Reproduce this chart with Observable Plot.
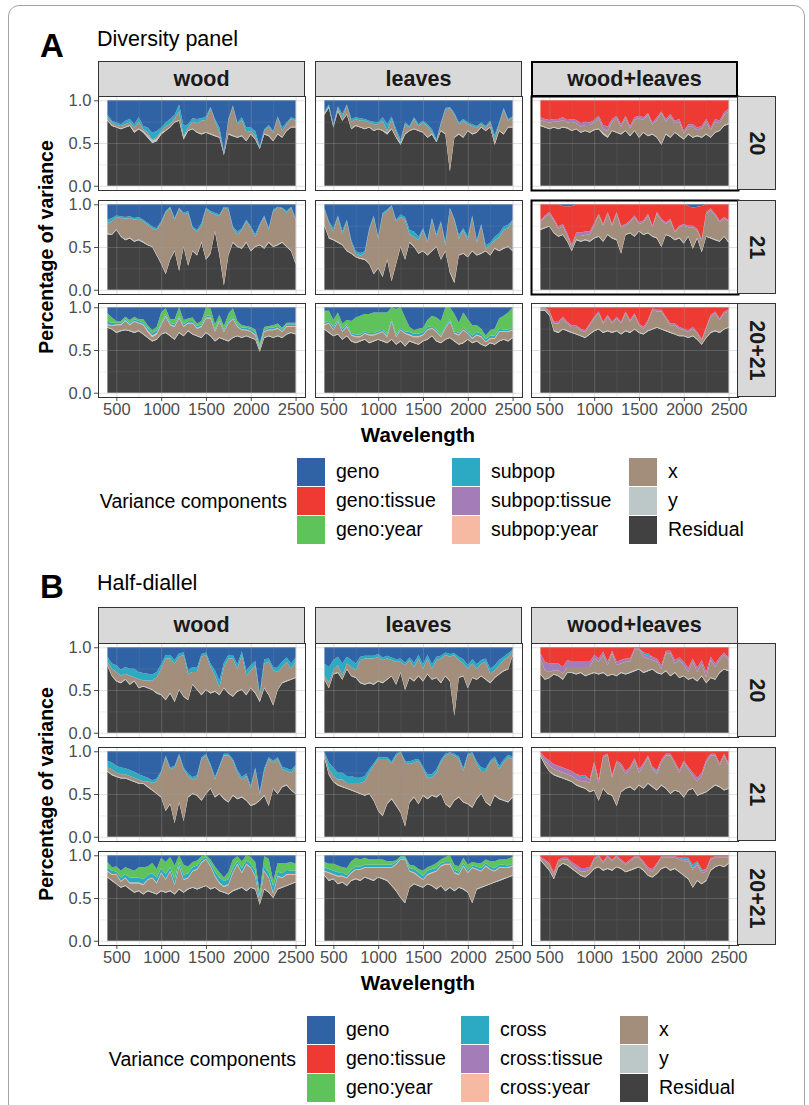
<!DOCTYPE html>
<html>
<head>
<meta charset="utf-8">
<script src="https://cdn.jsdelivr.net/npm/d3@7"></script>
<script src="https://cdn.jsdelivr.net/npm/@observablehq/plot@0.6"></script>
<style>
  html, body { margin: 0; padding: 0; background: #fff; }
  #page { position: relative; width: 809px; height: 1105px; overflow: hidden;
          font-family: "Liberation Sans", Arial, Helvetica, sans-serif; color: #000; }
  .txt { position: absolute; white-space: nowrap; line-height: 1; }
  .strip { position: absolute; box-sizing: border-box; background: #d9d9d9; border: 1px solid #333;
           display: flex; align-items: center; justify-content: center;
           font-weight: bold; font-size: 21.5px; color: #1a1a1a; }
  .strip.emph { border: 2px solid #000; }
  .strip.side span { transform: rotate(90deg); white-space: nowrap; display: block; }
  .swatch { position: absolute; width: 28px; height: 28px; }
  .outer { position: absolute; left: 8px; top: 5px; width: 797px; height: 1130px;
           border: 1.5px solid #a3a3a3; border-radius: 11px; box-sizing: border-box; }
</style>
</head>
<body>
<div id="page"><div class="outer"></div></div>
<script>
// ---------- shared axes ----------
const wavelength = [400,450,500,550,600,650,700,750,800,850,900,950,1000,1050,1100,1150,1200,1250,1300,1350,1400,1450,1500,1550,1600,1650,1700,1750,1800,1850,1900,1950,2000,2050,2100,2150,2200,2250,2300,2350,2400,2450,2500];
const tissues = ["wood", "leaves", "wood+leaves"];
const years = ["20", "21", "20+21"];
const xTicks = [500, 1000, 1500, 2000, 2500];
const xMinorTicks = [750, 1250, 1750, 2250];
const yTicks = [0, 0.5, 1];
const yMinorTicks = [0.25, 0.75];

const componentsA = ["geno", "geno:tissue", "geno:year", "subpop", "subpop:tissue", "subpop:year", "x", "y", "Residual"];
const componentsB = ["geno", "geno:tissue", "geno:year", "cross", "cross:tissue", "cross:year", "x", "y", "Residual"];
const componentColors = ["#3063a6", "#ee3a33", "#5ec35b", "#2ca9c3", "#a47db8", "#f6b9a2", "#a38d7b", "#bcc7c7", "#414141"];

// ---------- A: diversity panel (percent of variance) ----------
const divWood20Residual = [76,70,68,66,68,70,62,66,62,56,50,52,60,64,68,74,76,54,64,66,62,60,62,60,58,56,36,60,58,56,58,52,60,54,43,60,58,52,60,56,64,68,68];
const divWood20Y        = [1,1,1,1,1,1,2,1,2,3,3,3,2,1,1,1,1,3,1,1,1,1,1,1,1,1,1,1,1,1,1,1,1,1,1,1,1,1,1,1,1,1,1];
const divWood20X        = [3,3,2,3,3,3,4,8,2,3,1,2,2,5,3,4,10,1,3,8,10,15,14,30,17,6,1,15,34,15,18,10,3,4,0,3,10,9,19,7,7,9,7];
const divWood20Subpop   = [3,2,3,2,4,4,4,5,4,6,8,7,4,4,6,4,8,12,4,4,5,3,4,1,2,5,2,2,1,2,3,5,4,5,2,2,2,2,1,4,2,2,2];

const divLeaves20Residual = [83,91,68,87,76,83,66,70,68,66,68,64,66,64,60,66,56,48,60,64,66,64,62,56,60,51,64,60,17,56,60,56,64,60,62,68,64,68,48,64,60,68,68];
const divLeaves20Y        = [1,1,1,1,1,1,1,1,1,1,1,1,1,1,2,1,1,2,1,1,1,1,1,1,1,1,1,1,1,1,1,1,1,1,1,1,1,1,2,1,1,1,1];
const divLeaves20X        = [1,1,1,3,3,10,8,7,7,9,5,7,5,11,2,11,6,1,11,3,11,5,11,13,2,0,7,28,73,26,11,19,7,9,5,3,3,5,5,7,28,7,11];
const divLeaves20Subpop   = [2,2,2,2,4,1,3,2,3,2,2,3,2,4,8,3,3,3,2,2,2,2,2,2,3,2,2,2,1,2,2,2,2,2,2,2,2,2,4,2,2,2,1];

const divWL20Residual = [70,68,66,68,66,68,67,64,66,62,64,62,65,66,60,56,64,62,60,64,58,64,56,62,58,60,56,48,60,56,62,58,54,60,56,58,56,60,56,62,64,70,72];
const divWL20Y        = [1,1,1,1,1,1,1,1,1,1,1,1,1,1,2,2,1,1,1,1,1,1,1,1,1,1,1,1,1,1,1,1,1,1,1,1,1,1,1,1,1,1,1];
const divWL20X        = [6,6,7,6,8,8,6,10,6,6,6,8,8,12,4,6,10,16,8,14,8,12,22,14,24,10,20,36,14,24,10,16,6,8,12,6,10,14,8,12,8,12,14];
const divWL20SubpopTissue = [3,3,3,3,3,3,3,3,4,4,4,3,3,3,5,5,3,3,3,3,3,3,3,3,2,3,3,2,3,3,3,3,3,3,3,3,3,3,3,3,3,3,3];

const divWood21Residual = [65,64,70,62,58,60,56,58,55,52,50,40,30,18,35,45,22,50,28,45,40,55,35,42,68,40,5,40,55,50,48,55,45,50,52,48,55,50,52,55,50,45,30];
const divWood21Y        = [1,1,1,1,1,1,1,1,1,1,1,1,1,1,1,1,1,1,1,1,1,1,1,1,1,2,1,1,1,1,1,1,1,1,1,1,1,1,1,1,1,1,1];
const divWood21X        = [12,15,14,21,24,23,25,24,24,23,21,29,47,71,60,36,72,37,61,26,27,19,59,47,19,44,90,53,16,14,21,24,26,11,22,36,14,41,43,39,39,50,51];
const divWood21Subpop   = [4,4,2,2,2,2,2,2,2,2,2,2,2,2,1,2,1,2,2,2,2,3,1,2,2,2,1,2,2,3,2,2,2,3,2,2,2,2,1,1,2,1,2];

const divLeaves21Residual = [75,60,58,55,52,45,42,38,36,35,30,18,25,15,35,10,30,50,35,55,50,42,45,40,45,50,35,45,20,8,40,42,38,45,40,42,45,40,48,45,48,50,45];
const divLeaves21Y        = [1,1,1,1,1,1,1,1,1,1,1,1,1,1,1,1,1,1,1,1,1,1,1,1,1,1,1,1,1,2,1,1,1,1,1,1,1,1,1,1,1,1,1];
const divLeaves21X        = [19,17,9,29,12,34,12,3,3,6,39,66,34,72,56,87,49,34,46,9,11,15,24,14,36,11,42,6,74,71,19,27,19,39,14,32,2,11,9,16,21,21,34];
const divLeaves21Subpop   = [1,2,4,2,4,2,3,3,3,3,2,2,2,2,2,1,2,3,3,5,6,4,2,3,2,3,2,4,1,2,4,2,4,2,3,2,4,3,4,4,4,4,2];

const divWL21Residual = [70,72,74,66,62,64,56,45,58,56,58,56,60,62,56,64,60,58,42,64,66,62,68,64,66,62,60,50,64,62,58,60,54,62,48,60,44,62,60,58,56,62,55];
const divWL21Y        = [1,1,1,1,1,1,1,1,1,1,1,1,1,1,1,1,1,1,1,1,1,1,1,1,1,1,1,1,1,1,1,1,1,1,1,1,1,1,1,1,1,1,1];
const divWL21X        = [8,12,14,14,8,10,6,4,4,6,5,8,14,24,18,24,14,30,30,10,12,22,8,14,20,10,28,30,12,18,8,12,20,10,24,8,12,26,32,28,22,20,24];
const divWL21SubpopTissue = [2,2,2,2,3,2,3,3,4,4,4,3,3,2,2,2,2,2,2,2,2,2,2,2,2,2,2,2,2,2,2,2,2,2,2,2,2,2,2,2,2,2,2];
const divWL21Geno     = [0,0,0,0,0,2,3,2,0,0,0,0,0,0,0,0,0,0,0,0,0,0,0,0,0,0,0,0,0,0,0,0,0,2,4,3,2,0,0,0,0,0,0];

const divWood2021Residual   = [76,74,70,72,73,72,70,72,68,64,60,62,68,70,66,62,70,66,72,68,66,64,70,66,60,64,62,60,64,66,64,66,64,62,48,64,66,64,66,64,68,70,68];
const divWood2021Y          = [1,1,1,1,1,1,1,1,1,1,1,1,1,1,1,1,1,1,1,1,1,1,1,1,1,1,1,1,1,1,1,1,1,1,1,1,1,1,1,1,1,1,1];
const divWood2021SubpopYear = [1,1,1,1,1,1,1,1,1,2,2,2,1,1,1,1,1,1,1,1,1,1,1,1,1,1,1,1,1,1,1,1,1,1,1,1,1,1,1,1,1,1,1];
const divWood2021X          = [2,3,8,6,10,6,12,8,10,6,4,5,10,18,12,14,16,10,8,12,8,12,16,20,10,18,8,20,21,10,8,6,6,4,2,6,6,8,8,6,8,6,8];
const divWood2021Subpop     = [3,3,2,2,2,2,2,2,2,3,3,3,2,2,2,2,2,2,2,2,2,2,2,2,2,2,2,2,2,2,2,2,3,3,2,2,2,2,2,2,2,2,2];
const divWood2021GenoYear   = [10,6,2,2,2,3,3,2,4,3,3,4,12,7,4,6,10,5,3,4,3,4,10,9,6,5,4,8,10,4,3,2,2,3,4,3,2,3,3,2,2,2,2];

const divLeaves2021Residual   = [74,70,66,68,62,66,60,58,60,62,58,60,62,60,58,62,56,60,54,60,58,56,60,62,66,60,58,62,64,60,56,58,62,58,60,56,54,58,56,60,62,60,64];
const divLeaves2021Y          = [1,1,1,1,1,1,1,1,1,1,1,1,1,1,1,1,1,1,1,1,1,1,1,1,1,1,1,1,1,1,1,1,1,1,1,1,1,1,1,1,1,1,1];
const divLeaves2021SubpopYear = [1,1,1,1,1,1,1,1,1,1,1,1,1,1,1,1,1,1,1,1,1,1,1,1,1,1,1,1,1,1,1,1,1,1,1,1,1,1,1,1,1,1,1];
const divLeaves2021X          = [4,10,6,14,8,10,6,6,4,6,8,6,6,10,6,20,8,12,14,6,6,8,6,10,8,10,6,12,18,8,10,14,6,4,6,8,4,4,6,10,8,10,8];
const divLeaves2021Subpop     = [2,2,3,2,3,2,2,2,2,2,2,2,2,2,2,2,2,2,2,3,3,3,3,3,2,2,2,2,2,2,2,2,2,3,3,3,3,3,3,3,2,2,2];
const divLeaves2021GenoYear   = [14,12,8,8,6,5,14,20,22,20,22,24,22,20,26,14,30,24,16,6,4,6,5,8,12,14,16,22,14,20,12,18,14,12,8,6,4,6,8,12,16,20,24];

const divWL2021Residual = [96,96,90,72,70,74,72,70,68,66,64,68,72,74,70,72,70,72,68,72,70,74,70,68,72,74,76,74,72,70,68,66,66,64,66,62,56,64,70,72,70,74,76];
const divWL2021Y        = [1,1,1,1,1,1,1,1,1,1,1,1,1,1,1,1,1,1,1,1,1,1,1,1,1,1,1,1,1,1,1,1,1,1,1,1,1,1,1,1,1,1,1];
const divWL2021X        = [2,2,4,8,10,12,8,6,8,6,6,10,14,18,10,16,10,14,12,20,12,16,8,6,10,22,18,20,14,8,10,8,6,6,8,6,4,10,18,20,14,18,18];
const divWL2021SubpopTissue = [1,1,1,2,2,2,2,2,2,2,2,2,2,2,2,2,2,2,2,2,2,2,2,2,2,2,2,2,2,2,2,2,2,2,2,2,2,2,2,2,2,2,2];

// ---------- B: half-diallel (percent of variance) ----------
const hdWood20Residual = [78,66,60,58,62,56,60,52,54,52,50,46,44,38,46,36,50,42,38,56,50,44,50,46,48,44,52,46,42,48,50,44,52,46,36,52,44,32,50,58,60,62,64];
const hdWood20Y        = [1,1,1,1,1,1,1,1,1,1,1,1,1,1,1,1,1,1,1,1,1,1,1,1,1,1,1,1,1,1,1,1,1,1,2,1,1,1,1,1,1,1,1];
const hdWood20X        = [4,8,10,8,6,10,4,10,6,8,10,18,30,48,40,44,38,48,30,14,20,44,40,30,18,8,24,40,44,26,40,22,20,32,4,28,38,40,20,18,22,12,18];
const hdWood20Cross    = [6,6,8,7,8,8,10,8,9,8,7,6,5,4,4,4,4,3,4,6,5,3,3,4,6,8,5,4,4,5,4,6,6,5,4,5,4,4,6,6,5,6,5];

const hdLeaves20Residual = [62,52,68,70,62,74,66,64,58,56,58,56,60,58,62,66,56,70,50,64,60,66,60,68,62,64,58,66,60,20,64,66,52,64,62,66,62,58,64,68,72,74,90];
const hdLeaves20Y        = [1,1,1,1,1,1,1,1,1,1,1,1,1,1,1,1,1,1,1,1,1,1,1,1,1,1,1,1,1,1,1,1,1,1,1,1,1,1,1,1,1,1,1];
const hdLeaves20X        = [4,6,4,8,4,6,10,8,26,30,28,30,28,26,24,18,26,12,28,20,16,20,14,18,12,20,28,24,28,70,20,14,22,16,12,14,20,10,8,10,12,14,4];
const hdLeaves20Cross    = [14,18,12,10,14,8,8,8,4,3,3,3,3,3,3,3,3,4,3,3,5,4,5,4,5,4,3,3,3,2,4,5,4,5,5,4,4,6,6,6,4,4,2];

const hdWL20Residual = [68,62,64,68,66,62,70,70,68,70,66,68,70,68,70,66,68,66,70,68,70,72,74,70,72,74,70,68,72,66,70,64,66,62,64,60,66,58,64,62,70,74,72];
const hdWL20Y        = [1,1,1,1,1,1,1,1,1,1,1,1,1,1,1,1,1,1,1,1,1,1,1,1,1,1,1,1,1,1,1,1,1,1,1,1,1,1,1,1,1,1,1];
const hdWL20X        = [18,10,6,4,6,6,6,6,8,6,10,8,16,14,20,12,24,12,10,14,12,24,22,18,14,10,12,6,20,26,10,20,12,8,18,10,14,6,20,14,14,16,12];
const hdWL20CrossTissue = [6,10,10,8,8,8,8,6,6,6,6,6,4,4,4,4,3,4,4,4,4,2,2,3,3,4,4,4,3,3,4,3,4,5,4,5,4,6,4,4,3,3,3];
const hdWL20Cross    = [0,0,0,0,0,0,0,0,0,0,0,0,0,0,0,0,0,0,0,0,0,0,0,2,3,0,0,0,0,0,0,0,0,0,0,0,0,0,0,0,0,0,0];

const hdWood21Residual = [76,72,70,68,68,66,64,62,62,58,54,50,46,30,38,16,40,18,46,50,48,42,50,56,46,50,44,40,48,44,46,42,36,38,42,48,36,56,50,58,60,54,50];
const hdWood21Y        = [1,1,1,1,1,1,1,1,1,1,1,1,1,1,1,1,1,1,1,1,1,1,1,1,1,1,1,1,1,1,1,1,1,1,1,1,1,1,1,1,1,1,1];
const hdWood21X        = [4,6,4,4,4,4,4,4,2,6,8,14,28,62,40,64,54,60,24,16,20,48,44,26,20,30,50,54,40,30,20,28,20,40,6,28,54,30,40,20,16,20,30];
const hdWood21Cross    = [8,8,8,8,7,7,7,6,6,4,3,3,2,2,2,2,2,2,3,3,3,2,2,2,3,2,2,2,2,3,3,3,3,2,3,3,2,2,2,3,3,3,3];

const hdLeaves21Residual = [92,72,64,60,58,56,54,52,50,48,50,42,30,24,38,44,36,28,12,40,46,38,48,44,48,46,50,38,34,42,46,40,38,34,44,50,40,36,48,44,42,40,46];
const hdLeaves21Y        = [1,1,1,1,1,1,1,1,1,1,1,1,1,1,1,1,1,1,1,1,1,1,1,1,1,1,1,1,1,1,1,1,1,1,1,1,1,1,1,1,1,1,1];
const hdLeaves21X        = [4,6,6,6,8,6,8,10,12,16,24,40,60,66,52,40,58,70,74,44,40,50,30,24,20,28,36,56,62,52,44,36,56,62,40,26,36,50,42,34,44,52,44];
const hdLeaves21Cross    = [2,8,10,8,8,8,8,6,6,6,4,3,2,2,2,3,2,1,2,3,3,2,3,4,4,4,3,2,2,2,3,3,2,2,3,4,3,2,3,4,3,3,3];

const hdWL21Residual = [94,84,76,72,70,68,66,64,60,58,56,52,54,42,56,50,48,36,52,56,58,54,60,56,62,58,54,60,56,50,54,52,46,54,56,48,50,52,56,60,58,54,56];
const hdWL21Y        = [1,1,1,1,1,1,1,1,1,1,1,1,1,1,1,1,1,1,1,1,1,1,1,1,1,1,1,1,1,1,1,1,1,1,1,1,1,1,1,1,1,1,1];
const hdWL21X        = [2,4,6,6,6,6,6,6,6,6,8,10,30,20,36,44,20,50,30,16,20,34,14,26,30,20,18,26,38,44,30,22,40,24,14,16,20,34,38,34,24,40,26];
const hdWL21CrossTissue = [2,4,6,6,6,6,6,6,6,5,5,4,3,4,2,2,3,2,3,4,3,3,4,3,2,3,3,3,2,2,3,3,2,3,4,4,4,3,2,2,3,2,3];
const hdWL21Cross    = [0,0,0,0,0,0,0,0,0,2,2,0,0,0,0,0,0,0,0,0,0,0,0,0,0,0,2,0,0,0,0,0,0,0,0,0,0,0,0,0,0,0,0];

const hdWood2021Residual  = [74,70,66,62,64,60,56,58,54,58,56,54,58,56,58,54,60,56,60,62,60,62,64,60,62,58,56,54,58,60,62,58,62,60,42,60,56,50,60,62,64,66,68];
const hdWood2021Y         = [1,1,1,1,1,1,1,1,1,1,1,1,1,1,1,1,1,1,1,1,1,1,1,1,1,1,1,1,1,1,1,1,1,1,1,1,1,1,1,1,1,1,1];
const hdWood2021CrossYear = [1,1,1,1,1,1,1,1,1,1,1,1,1,1,1,1,1,1,1,1,1,1,1,1,1,1,1,1,1,1,1,1,1,1,1,1,1,1,1,1,1,1,1];
const hdWood2021X         = [6,6,10,6,8,6,10,8,10,12,16,12,20,14,22,10,26,14,12,18,22,28,30,26,12,8,6,10,20,28,16,30,22,14,2,20,16,4,14,10,12,10,8];
const hdWood2021Cross     = [4,4,3,4,4,6,6,6,6,5,5,6,5,6,4,6,4,5,5,4,4,3,2,3,5,6,6,6,5,3,5,4,4,6,6,5,6,8,5,5,5,4,4];
const hdWood2021GenoYear  = [6,4,6,8,8,10,8,12,14,10,12,10,12,14,12,16,8,12,8,6,6,4,2,4,6,6,4,8,10,6,8,6,8,10,4,12,16,6,10,12,8,10,8];

const hdLeaves2021Residual  = [76,70,72,66,68,64,70,72,70,74,72,70,74,72,70,64,58,50,44,62,66,64,62,66,64,60,64,58,62,58,62,60,56,44,60,62,64,66,68,70,72,74,76];
const hdLeaves2021Y         = [1,1,1,1,1,1,1,1,1,1,1,1,1,1,1,1,1,1,1,1,1,1,1,1,1,1,1,1,1,1,1,1,1,1,1,1,1,1,1,1,1,1,1];
const hdLeaves2021CrossYear = [1,1,1,1,1,1,1,1,1,1,1,1,1,1,1,1,1,1,1,1,1,1,1,1,1,1,1,1,1,1,1,1,1,1,1,1,1,1,1,1,1,1,1];
const hdLeaves2021X         = [4,8,4,8,6,8,8,10,12,10,12,14,10,12,14,20,30,44,50,18,12,10,8,10,14,20,22,30,26,20,14,26,22,40,22,18,22,16,12,14,12,10,10];
const hdLeaves2021Cross     = [4,4,4,4,4,3,3,3,3,3,3,3,3,3,3,3,2,1,1,3,4,4,4,4,4,3,3,2,2,3,3,3,3,2,3,3,3,3,3,3,3,2,2];
const hdLeaves2021GenoYear  = [6,6,8,8,6,8,10,10,8,8,6,6,6,6,4,4,2,2,2,4,4,4,6,4,4,6,4,6,8,6,6,6,6,4,4,6,4,6,8,6,6,8,8];

const hdWL2021Residual = [94,88,82,72,86,90,88,84,80,76,74,78,84,86,82,84,82,86,84,80,82,84,86,82,76,74,78,84,86,82,84,80,76,72,62,70,66,70,82,86,88,86,90];
const hdWL2021Y        = [1,1,1,1,1,1,1,1,1,1,1,1,1,1,1,1,1,1,1,1,1,1,1,1,1,1,1,1,1,1,1,1,1,1,1,1,1,1,1,1,1,1,1];
const hdWL2021X        = [2,4,6,4,6,4,6,4,4,4,6,4,10,12,8,14,10,12,8,8,10,12,10,8,6,6,10,12,10,14,12,14,16,20,20,18,12,10,12,10,8,10,6];
const hdWL2021CrossTissue = [1,2,2,3,2,2,2,3,4,4,4,3,2,1,2,1,2,1,2,2,2,2,2,2,3,3,2,2,2,2,2,2,2,2,2,2,3,3,2,2,2,2,2];
const hdWL2021Cross    = [0,0,0,0,0,0,0,0,0,0,0,0,0,0,0,0,0,0,0,0,0,0,0,0,0,0,0,0,0,0,0,0,2,2,4,2,2,0,0,0,0,0,0];

// ---------- panel tables ----------
const panelsA = [
  {tissue: "wood", year: "20", top: "geno", series: {Residual: divWood20Residual, y: divWood20Y, x: divWood20X, subpop: divWood20Subpop}},
  {tissue: "leaves", year: "20", top: "geno", series: {Residual: divLeaves20Residual, y: divLeaves20Y, x: divLeaves20X, subpop: divLeaves20Subpop}},
  {tissue: "wood+leaves", year: "20", top: "geno:tissue", emph: true, series: {Residual: divWL20Residual, y: divWL20Y, x: divWL20X, "subpop:tissue": divWL20SubpopTissue}},
  {tissue: "wood", year: "21", top: "geno", series: {Residual: divWood21Residual, y: divWood21Y, x: divWood21X, subpop: divWood21Subpop}},
  {tissue: "leaves", year: "21", top: "geno", series: {Residual: divLeaves21Residual, y: divLeaves21Y, x: divLeaves21X, subpop: divLeaves21Subpop}},
  {tissue: "wood+leaves", year: "21", top: "geno:tissue", emph: true, series: {Residual: divWL21Residual, y: divWL21Y, x: divWL21X, "subpop:tissue": divWL21SubpopTissue, geno: divWL21Geno}},
  {tissue: "wood", year: "20+21", top: "geno", series: {Residual: divWood2021Residual, y: divWood2021Y, "subpop:year": divWood2021SubpopYear, x: divWood2021X, subpop: divWood2021Subpop, "geno:year": divWood2021GenoYear}},
  {tissue: "leaves", year: "20+21", top: "geno", series: {Residual: divLeaves2021Residual, y: divLeaves2021Y, "subpop:year": divLeaves2021SubpopYear, x: divLeaves2021X, subpop: divLeaves2021Subpop, "geno:year": divLeaves2021GenoYear}},
  {tissue: "wood+leaves", year: "20+21", top: "geno:tissue", series: {Residual: divWL2021Residual, y: divWL2021Y, x: divWL2021X, "subpop:tissue": divWL2021SubpopTissue}}
];

const panelsB = [
  {tissue: "wood", year: "20", top: "geno", series: {Residual: hdWood20Residual, y: hdWood20Y, x: hdWood20X, cross: hdWood20Cross}},
  {tissue: "leaves", year: "20", top: "geno", series: {Residual: hdLeaves20Residual, y: hdLeaves20Y, x: hdLeaves20X, cross: hdLeaves20Cross}},
  {tissue: "wood+leaves", year: "20", top: "geno:tissue", series: {Residual: hdWL20Residual, y: hdWL20Y, x: hdWL20X, "cross:tissue": hdWL20CrossTissue, cross: hdWL20Cross}},
  {tissue: "wood", year: "21", top: "geno", series: {Residual: hdWood21Residual, y: hdWood21Y, x: hdWood21X, cross: hdWood21Cross}},
  {tissue: "leaves", year: "21", top: "geno", series: {Residual: hdLeaves21Residual, y: hdLeaves21Y, x: hdLeaves21X, cross: hdLeaves21Cross}},
  {tissue: "wood+leaves", year: "21", top: "geno:tissue", series: {Residual: hdWL21Residual, y: hdWL21Y, x: hdWL21X, "cross:tissue": hdWL21CrossTissue, cross: hdWL21Cross}},
  {tissue: "wood", year: "20+21", top: "geno", series: {Residual: hdWood2021Residual, y: hdWood2021Y, "cross:year": hdWood2021CrossYear, x: hdWood2021X, cross: hdWood2021Cross, "geno:year": hdWood2021GenoYear}},
  {tissue: "leaves", year: "20+21", top: "geno", series: {Residual: hdLeaves2021Residual, y: hdLeaves2021Y, "cross:year": hdLeaves2021CrossYear, x: hdLeaves2021X, cross: hdLeaves2021Cross, "geno:year": hdLeaves2021GenoYear}},
  {tissue: "wood+leaves", year: "20+21", top: "geno:tissue", series: {Residual: hdWL2021Residual, y: hdWL2021Y, x: hdWL2021X, "cross:tissue": hdWL2021CrossTissue, cross: hdWL2021Cross}}
];

// ---------- layout ----------
const page = document.getElementById("page");
const FONT = '"Liberation Sans", Arial, Helvetica, sans-serif';
const frameLeft = [98, 315, 531];
const frameW = 207, frameH = 94;
const xDomain = [295, 2605];      // 400–2500 nm with 5% padding
const yDomain = [-0.05, 1.05];

function addText(str, {left, top, size, weight = "normal", anchor = "start", color = "#000"}) {
  const el = document.createElement("div");
  el.className = "txt";
  el.textContent = str;
  el.style.fontSize = size + "px";
  el.style.fontWeight = weight;
  el.style.color = color;
  el.style.left = left + "px";
  el.style.top = top + "px";
  const tx = anchor === "middle" ? "-50%" : anchor === "end" ? "-100%" : "0";
  el.style.transform = `translate(${tx}, -50%)`;
  page.appendChild(el);
  return el;
}

// long-format rows for one panel; the top component holds the remaining share
function panelRows(panel) {
  const rows = [];
  wavelength.forEach((w, i) => {
    let used = 0;
    for (const [component, values] of Object.entries(panel.series)) {
      rows.push({wavelength: w, component, share: values[i] / 100});
      used += values[i];
    }
    rows.push({wavelength: w, component: panel.top, share: Math.max(0, 100 - used) / 100});
  });
  return rows;
}

function drawPart({panels, components, rowTops, stripTop, emphStrip}) {
  const stackOrder = components.slice().reverse();   // Residual at the bottom, geno on top
  for (const p of panels) {
    const ci = tissues.indexOf(p.tissue), ri = years.indexOf(p.year);
    const showY = ci === 0, showX = ri === years.length - 1;
    const ml = showY ? 40 : 0, mb = showX ? 28 : 0;
    const chart = Plot.plot({
      width: frameW + ml, height: frameH + mb,
      marginLeft: ml, marginRight: 0, marginTop: 0, marginBottom: mb,
      x: {domain: xDomain, axis: showX ? "bottom" : null, ticks: xTicks, tickFormat: d3.format("d"),
          tickSize: 4, tickPadding: 2, label: null},
      y: {domain: yDomain, axis: showY ? "left" : null, ticks: yTicks, tickFormat: d3.format(".1f"),
          tickSize: 4, tickPadding: 3, label: null},
      color: {domain: components, range: componentColors},
      style: {fontFamily: FONT, fontSize: "16.5px", color: "#4d4d4d", background: "transparent", overflow: "visible"},
      marks: [
        Plot.frame({fill: "white"}),
        Plot.areaY(panelRows(p), {x: "wavelength", y: "share", fill: "component", order: stackOrder, clip: true}),
        Plot.ruleX(xMinorTicks, {stroke: "#a0a0a0", strokeOpacity: 0.22, strokeWidth: 0.7}),
        Plot.ruleX(xTicks, {stroke: "#a0a0a0", strokeOpacity: 0.32, strokeWidth: 1.1}),
        Plot.ruleY(yMinorTicks, {stroke: "#a0a0a0", strokeOpacity: 0.22, strokeWidth: 0.7}),
        Plot.ruleY(yTicks, {stroke: "#a0a0a0", strokeOpacity: 0.32, strokeWidth: 1.1}),
        Plot.frame({stroke: p.emph ? "#000" : "#333", strokeWidth: p.emph ? 2 : 1})
      ]
    });
    chart.style.position = "absolute";
    chart.style.left = (frameLeft[ci] - ml) + "px";
    chart.style.top = rowTops[ri] + "px";
    chart.style.overflow = "visible";
    page.appendChild(chart);
  }
  // facet strips: tissue across the top, year down the right side
  tissues.forEach((t, ci) => {
    const s = document.createElement("div");
    s.className = "strip" + (emphStrip === t ? " emph" : "");
    s.style.left = frameLeft[ci] + "px";
    s.style.top = stripTop + "px";
    s.style.width = frameW + "px";
    s.style.height = (rowTops[0] - stripTop + 1) + "px";
    s.textContent = t;
    page.appendChild(s);
  });
  years.forEach((y, ri) => {
    const s = document.createElement("div");
    s.className = "strip side";
    s.style.left = (frameLeft[2] + frameW - 1) + "px";
    s.style.top = rowTops[ri] + "px";
    s.style.width = "39px";
    s.style.height = frameH + "px";
    const sp = document.createElement("span");
    sp.textContent = y;
    s.appendChild(sp);
    page.appendChild(s);
  });
  const bottom = rowTops[2] + frameH;
  addText("Wavelength", {left: (frameLeft[0] + frameLeft[2] + frameW) / 2, top: bottom + 38, size: 20.5, weight: "bold", anchor: "middle"});
  const yt = addText("Percentage of variance", {left: 47, top: (rowTops[0] + bottom) / 2, size: 19.5, weight: "bold"});
  yt.style.transform = "translate(-50%, -50%) rotate(-90deg)";
  yt.style.transformOrigin = "50% 50%";
}

function drawLegend({components, top, titleRight, colLefts}) {
  addText("Variance components", {left: titleRight, top: top + 43.5, size: 19.5, anchor: "end"});
  components.forEach((c, i) => {
    const col = Math.floor(i / 3), row = i % 3;
    const sw = document.createElement("div");
    sw.className = "swatch";
    sw.style.left = colLefts[col] + "px";
    sw.style.top = (top + row * 29) + "px";
    sw.style.background = componentColors[i];
    page.appendChild(sw);
    addText(c, {left: colLefts[col] + 39, top: top + row * 29 + 14, size: 19.5});
  });
}

// ---------- A ----------
addText("A", {left: 40, top: 45, size: 33, weight: "bold"});
addText("Diversity panel", {left: 97, top: 40, size: 21.5});
drawPart({panels: panelsA, components: componentsA, rowTops: [96, 200, 303], stripTop: 61, emphStrip: "wood+leaves"});
drawLegend({components: componentsA, top: 458, titleRight: 287, colLefts: [297, 452, 629]});

// ---------- B ----------
addText("B", {left: 40, top: 586, size: 33, weight: "bold"});
addText("Half-diallel", {left: 97, top: 584, size: 21.5});
drawPart({panels: panelsB, components: componentsB, rowTops: [643, 747, 851], stripTop: 607});
drawLegend({components: componentsB, top: 1016, titleRight: 296, colLefts: [307, 461, 620]});
</script>
</body>
</html>
